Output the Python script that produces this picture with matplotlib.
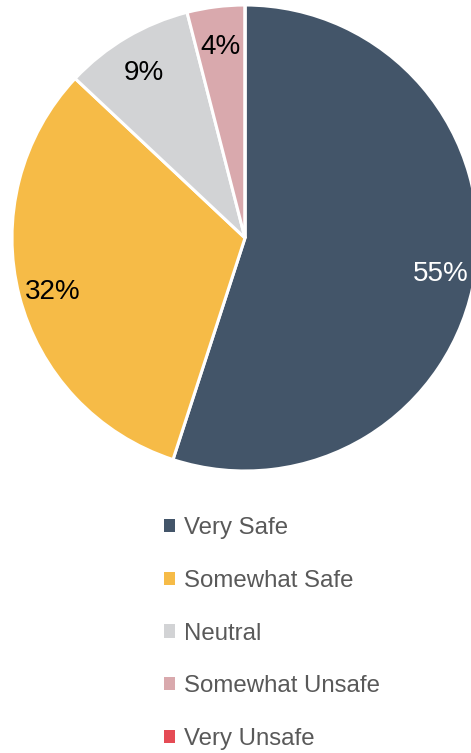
import matplotlib
matplotlib.use("Agg")
import matplotlib.pyplot as plt
from matplotlib.patches import Patch
from matplotlib.transforms import ScaledTranslation

categories = ["Very Safe", "Somewhat Safe", "Neutral", "Somewhat Unsafe", "Very Unsafe"]
shares = [55, 32, 9, 4, 0]
colors = ["#435569", "#F6BB47", "#D2D3D5", "#D9A9AD", "#E54B55"]
label_colors = ["white", "black", "black", "black", "black"]

W, H = 471, 753
fig = plt.figure(figsize=(W / 100, H / 100), dpi=100)
fig.patch.set_facecolor("white")

# pie axes: centre (245, 238) px, radius 233 px
cx, cy, r = 245, 238, 233
ax = fig.add_axes([(cx - r) / W, (H - cy - r) / H, 2 * r / W, 2 * r / H])

font = ["Liberation Sans", "DejaVu Sans"]

wedges, texts, autotexts = ax.pie(
    shares,
    colors=colors,
    startangle=90,
    counterclock=False,
    radius=1,
    autopct=lambda p: f"{p:.0f}%" if p > 0.5 else "",
    pctdistance=0.85,
    wedgeprops=dict(edgecolor="white", linewidth=2.2),
    frame=False,
)
ax.set_xlim(-1, 1)
ax.set_ylim(-1, 1)
ax.axis("off")

shift = ScaledTranslation(0, -5 / 100, fig.dpi_scale_trans)
for t, c in zip(autotexts, label_colors):
    t.set_color(c)
    t.set_fontsize(20)
    t.set_fontfamily(font)
    t.set_transform(t.get_transform() + shift)

handles = [Patch(facecolor=c, edgecolor="none") for c in colors]
leg = fig.legend(
    handles, categories,
    loc="upper left",
    bbox_to_anchor=(164 / W, 1 - 517 / H),
    frameon=False,
    prop=dict(family=font, size=17.3),
    handlelength=0.47,
    handleheight=0.47,
    handletextpad=0.38,
    labelspacing=1.28,
    borderpad=0,
    borderaxespad=0,
)
for txt in leg.get_texts():
    txt.set_color("#595959")

fig.savefig("out.png", dpi=100, facecolor="white")
